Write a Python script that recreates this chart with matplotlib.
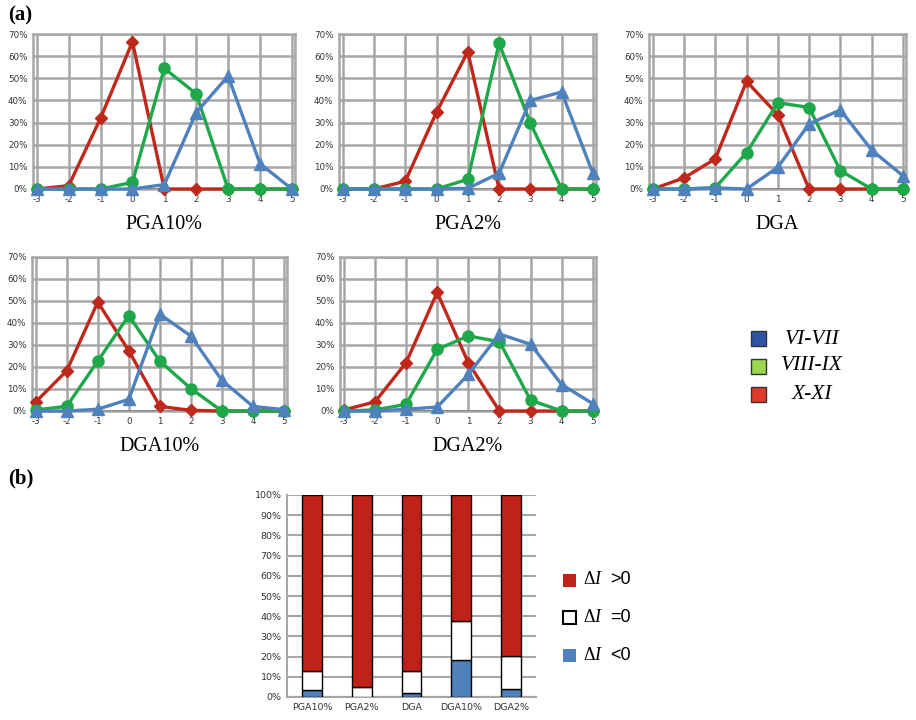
import numpy as np
import matplotlib
matplotlib.use("Agg")
import matplotlib.pyplot as plt
from matplotlib.patches import Rectangle

plt.rcParams["axes.unicode_minus"] = False

W, H = 916, 720

delta = [-3, -2, -1, 0, 1, 2, 3, 4, 5]

# percent of cases per intensity class, one dict per panel
pga10 = {
    "X-XI": [0, 1.5, 32, 66.5, 0, 0, 0, 0, 0],
    "VIII-IX": [0, 0, 0, 3, 54.5, 43, 0, 0, 0],
    "VI-VII": [0, 0, 0, 0, 2, 34.5, 51, 11.5, 0],
}
pga2 = {
    "X-XI": [0, 0, 3.5, 34.7, 62, 0, 0, 0, 0],
    "VIII-IX": [0, 0, 0, 0, 4.4, 65.8, 29.8, 0, 0],
    "VI-VII": [0, 0, 0, 0, 0.3, 7.1, 40, 43.8, 7.1],
}
dga = {
    "X-XI": [0, 5, 13.6, 48.6, 33.5, 0, 0, 0, 0],
    "VIII-IX": [0, 0, 0.6, 16.4, 39, 36.8, 8.3, 0, 0],
    "VI-VII": [0, 0, 0.5, 0, 9.8, 29.4, 35.7, 17.6, 6],
}
dga10 = {
    "X-XI": [4.1, 18.3, 49.5, 27.4, 2.1, 0.3, 0, 0, 0],
    "VIII-IX": [0.5, 2.1, 22.7, 43.4, 22.7, 10.2, 0, 0, 0],
    "VI-VII": [0, 0, 0.8, 5.3, 44, 34.1, 14, 2.1, 0.6],
}
dga2 = {
    "X-XI": [0.5, 4.1, 21.9, 53.9, 21.9, 0, 0, 0, 0],
    "VIII-IX": [0, 0.5, 3, 28, 34.1, 31.5, 4.9, 0, 0],
    "VI-VII": [0, 0, 0.8, 1.8, 16.6, 35, 30.3, 12, 3.3],
}

methods = ["PGA10%", "PGA2%", "DGA", "DGA10%", "DGA2%"]
neg = [3.3, 0, 2.1, 18.2, 3.8]
zero = [9.4, 4.8, 10.6, 19.4, 16.4]
pos = [87.3, 95.2, 87.3, 62.4, 79.8]

styles = {
    "X-XI": dict(color="#c0281c", marker="D", ms=6.5),
    "VIII-IX": dict(color="#1fa84a", marker="o", ms=8),
    "VI-VII": dict(color="#4f81bd", marker="^", ms=9),
}

fig = plt.figure(figsize=(W / 100, H / 100), dpi=100)


def px_axes(l, t, r, b):
    return fig.add_axes([l / W, 1 - b / H, (r - l) / W, (b - t) / H])


def line_panel(box, data, title):
    ax = px_axes(*box)
    ax.set_xlim(-3.12, 5.1)
    ax.set_ylim(0, 70)
    ax.set_xticks(delta)
    ax.set_yticks(range(0, 71, 10))
    ax.set_yticklabels([f"{v}%" for v in range(0, 71, 10)])
    ax.tick_params(length=0, labelsize=6.3, pad=4, labelcolor="#333333")
    ax.grid(True, color="#a6a6a6", lw=1.8)
    ax.set_axisbelow(True)
    for s in ax.spines.values():
        s.set_color("#a6a6a6")
        s.set_linewidth(1.8)
    ax.axhline(0, color="black", lw=1.8, zorder=1.5)
    for name in ["X-XI", "VIII-IX", "VI-VII"]:
        st = styles[name]
        ax.plot(delta, data[name], color=st["color"], lw=2.4,
                marker=st["marker"], ms=st["ms"], mfc=st["color"],
                mec=st["color"], clip_on=False, zorder=3)
    ax.set_xlabel(title, family="Liberation Serif", fontsize=14.5,
                  labelpad=8)
    return ax


line_panel((33, 34, 295, 189), pga10, "PGA10%")
line_panel((339, 34, 596, 189), pga2, "PGA2%")
line_panel((649, 34, 906, 189), dga, "DGA")
line_panel((32, 257, 287, 411), dga10, "DGA10%")
line_panel((340, 257, 596, 411), dga2, "DGA2%")

fig.text(8 / W, 1 - 15 / H, "(a)", family="Liberation Serif",
         fontweight="bold", fontsize=15, va="center")
fig.text(8 / W, 1 - 478 / H, "(b)", family="Liberation Serif",
         fontweight="bold", fontsize=15, va="center")

# legend for the line panels
leg_cols = [("#2e55a5", "VI-VII", 339), ("#9bd651", "VIII-IX", 366),
            ("#e03a2a", "X-XI", 394)]
for col, lab, yc in leg_cols:
    fig.add_artist(Rectangle((751 / W, 1 - (yc + 7.5) / H), 15 / W, 15 / H,
                             transform=fig.transFigure, fc=col,
                             ec="#333333", lw=1))
    fig.text(812 / W, 1 - yc / H, lab, family="Liberation Serif",
             style="italic", fontsize=15.5, ha="center", va="center")

# stacked bars
bx = px_axes(287, 495, 536, 697)
x = np.arange(len(methods))
bx.bar(x, neg, 0.4, color="#4f81bd", edgecolor="black", lw=1, zorder=3)
bx.bar(x, zero, 0.4, bottom=neg, color="white", edgecolor="black", lw=1,
       zorder=3)
bottom2 = [a + b for a, b in zip(neg, zero)]
bx.bar(x, pos, 0.4, bottom=bottom2, color="#c0221a", edgecolor="black",
       lw=1, zorder=3)
bx.set_xlim(-0.5, 4.5)
bx.set_ylim(0, 100)
bx.set_xticks(x)
bx.set_xticklabels(methods)
bx.set_yticks(range(0, 101, 10))
bx.set_yticklabels([f"{v}%" for v in range(0, 101, 10)])
bx.tick_params(length=0, labelsize=6.8, pad=4, labelcolor="#333333")
bx.yaxis.grid(True, color="#a6a6a6", lw=1.5)
bx.set_axisbelow(True)
for s in ["top", "right"]:
    bx.spines[s].set_visible(False)
for s in ["left", "bottom"]:
    bx.spines[s].set_color("#a6a6a6")
    bx.spines[s].set_linewidth(1.5)

bar_leg = [("#c0221a", "none", ">0", 580), ("white", "black", "=0", 617),
           ("#4f81bd", "none", "<0", 655)]
for fc, ec, sym, yc in bar_leg:
    fig.add_artist(Rectangle((563 / W, 1 - (yc + 6.5) / H), 13 / W, 13 / H,
                             transform=fig.transFigure, fc=fc, ec=ec, lw=1.5))
    fig.text(583 / W, 1 - yc / H, "Δ", family="Liberation Serif",
             fontsize=13, va="center")
    fig.text(594 / W, 1 - yc / H, "I", family="Liberation Serif",
             style="italic", fontsize=13, va="center")
    fig.text(610 / W, 1 - yc / H, sym, family="Liberation Sans",
             fontsize=13, va="center")

fig.savefig("out.png", dpi=100)
